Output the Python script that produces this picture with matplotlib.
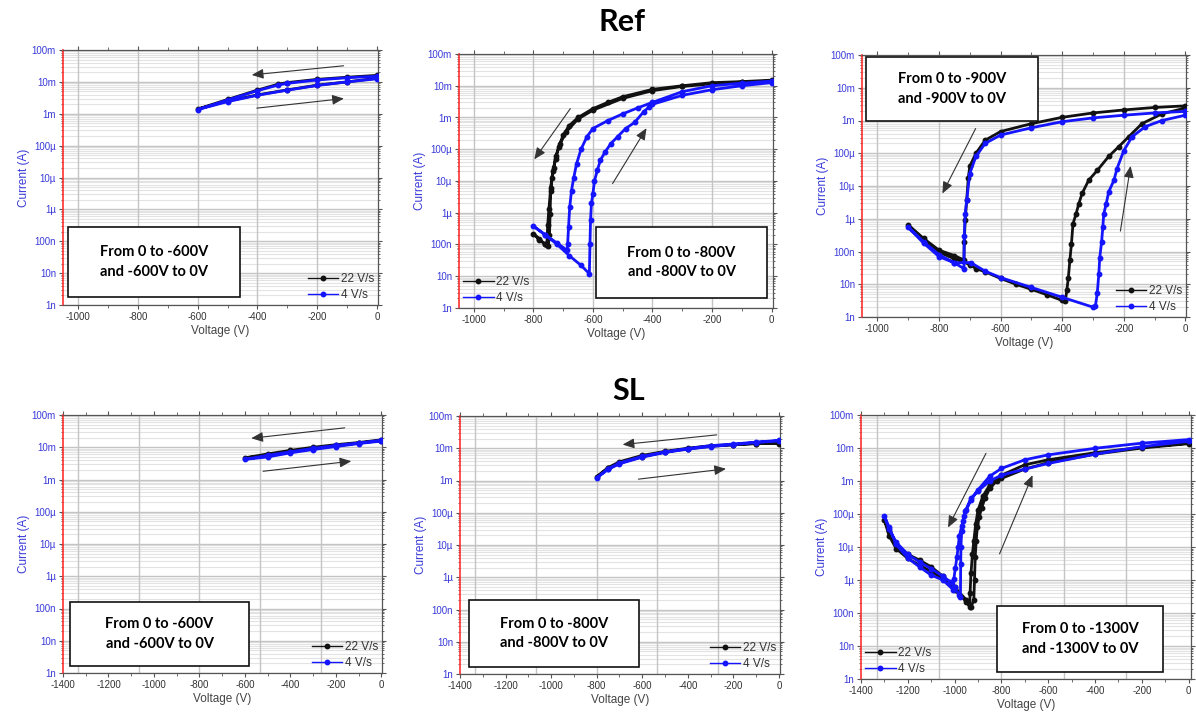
import numpy as np
import matplotlib.pyplot as plt
from matplotlib.ticker import MultipleLocator, FixedLocator, FixedFormatter, NullFormatter
from matplotlib.patches import Rectangle

plt.rcParams['font.family'] = ['Liberation Sans', 'DejaVu Sans']
plt.rcParams['axes.unicode_minus'] = False

# ---- y axis decades and their labels
decades = [1e-9, 1e-8, 1e-7, 1e-6, 1e-5, 1e-4, 1e-3, 1e-2, 1e-1]
decade_labels = ['1n', '10n', '100n', '1µ', '10µ', '100µ', '1m', '10m', '100m']
legend_labels = ['22 V/s', '4 V/s']

# ---- Ref, 0 -> -600 V -> 0
ref600_v22 = [0, -100, -200, -300, -330, -400, -500, -600, -500, -400, -300, -200, -100, 0]
ref600_i22 = [16e-3, 14e-3, 12e-3, 9.5e-3, 8.5e-3, 5.5e-3, 2.8e-3, 1.4e-3, 2.5e-3, 3.9e-3, 5.6e-3, 7.9e-3, 10e-3, 13e-3]
ref600_v4 = [0, -100, -200, -300, -330, -400, -500, -600, -500, -400, -300, -200, -100, 0]
ref600_i4 = [15e-3, 13.5e-3, 11.5e-3, 9e-3, 8e-3, 5.3e-3, 2.7e-3, 1.35e-3, 2.4e-3, 3.8e-3, 5.5e-3, 7.7e-3, 10e-3, 12.5e-3]

# ---- Ref, 0 -> -800 V -> 0
ref800_v22 = [0, -100, -200, -300, -400, -500, -550, -600, -650, -680, -700, -715, -725, -735, -742, -748, -752, -755,
              -760, -780, -800,
              -780, -760, -750, -746, -744, -742, -738, -732, -725, -710, -690, -650, -600, -500, -400, -300, -200, -100, 0]
ref800_i22 = [15e-3, 13.5e-3, 12.5e-3, 10e-3, 7.7e-3, 4.5e-3, 3e-3, 1.9e-3, 1e-3, 0.55e-3, 0.28e-3, 0.12e-3, 50e-6, 20e-6, 6e-6, 1.3e-6, 0.4e-6, 95e-9,
              100e-9, 150e-9, 220e-9,
              140e-9, 100e-9, 90e-9, 0.2e-6, 0.9e-6, 5e-6, 12e-6, 25e-6, 60e-6, 0.15e-3, 0.35e-3, 0.9e-3, 1.7e-3, 4e-3, 7e-3, 9.5e-3, 11.5e-3, 13e-3, 14e-3]
ref800_v4 = [0, -100, -200, -300, -400, -450, -500, -550, -600, -620, -640, -655, -665, -672, -678, -682, -685, -686,
             -720, -760, -800,
             -760, -720, -680, -640, -612, -610, -608, -605, -600, -595, -585, -575, -560, -540, -517, -490, -460, -430,
             -410, -400, -300, -200, -100, 0]
ref800_i4 = [14e-3, 12e-3, 10e-3, 6.5e-3, 3e-3, 2e-3, 1.3e-3, 0.8e-3, 0.45e-3, 0.25e-3, 0.1e-3, 35e-6, 12e-6, 5e-6, 1.5e-6, 0.35e-6, 0.1e-6, 65e-9,
             110e-9, 200e-9, 380e-9,
             200e-9, 100e-9, 45e-9, 22e-9, 12e-9, 100e-9, 0.6e-6, 2e-6, 4e-6, 10e-6, 22e-6, 45e-6, 80e-6, 0.15e-3, 0.25e-3, 0.45e-3, 0.7e-3, 1.5e-3,
             2.2e-3, 2.6e-3, 5e-3, 7.5e-3, 10e-3, 12.5e-3]

# ---- Ref, 0 -> -900 V -> 0
ref900_v22 = [0, -100, -200, -300, -400, -500, -600, -650, -680, -700, -705, -710, -715, -718, -719, -750, -800, -850, -900,
              -850, -800, -750, -700, -680, -650, -600, -550, -500, -450, -400, -390, -385, -380, -375, -370, -365, -355,
              -346, -335, -314, -286, -249, -216, -184, -141, -76, 0]
ref900_i22 = [2.8e-3, 2.5e-3, 2.1e-3, 1.7e-3, 1.25e-3, 0.8e-3, 0.46e-3, 0.25e-3, 0.1e-3, 40e-6, 17e-6, 3.7e-6, 0.9e-6, 0.2e-6, 55e-9, 75e-9, 110e-9, 0.25e-6, 0.65e-6,
              0.22e-6, 95e-9, 60e-9, 40e-9, 30e-9, 24e-9, 15e-9, 10e-9, 7e-9, 4.8e-9, 3.2e-9, 3e-9, 6.5e-9, 16e-9, 55e-9, 0.17e-6, 0.7e-6, 1.4e-6,
              2.9e-6, 6e-6, 15e-6, 30e-6, 80e-6, 0.16e-3, 0.32e-3, 0.8e-3, 1.6e-3, 2.4e-3]
ref900_v4 = [0, -100, -200, -300, -400, -500, -600, -650, -680, -700, -710, -715, -718, -719, -750, -800, -850, -900,
             -850, -800, -750, -697, -650, -600, -500, -400, -300, -292, -286, -281, -278, -272, -268, -265, -257, -249,
             -232, -222, -200, -173, -130, -76, 0]
ref900_i4 = [1.9e-3, 1.7e-3, 1.45e-3, 1.2e-3, 0.92e-3, 0.6e-3, 0.36e-3, 0.2e-3, 80e-6, 24e-6, 3.7e-6, 1.4e-6, 0.3e-6, 30e-9, 45e-9, 70e-9, 0.18e-6, 0.55e-6,
             0.2e-6, 80e-9, 45e-9, 46e-9, 25e-9, 16e-9, 8e-9, 4e-9, 2e-9, 2.2e-9, 5.5e-9, 21e-9, 65e-9, 0.2e-6, 0.57e-6, 1.4e-6, 2.9e-6, 6.6e-6,
             15e-6, 34e-6, 0.12e-3, 0.32e-3, 0.65e-3, 1e-3, 1.45e-3]

# ---- SL, 0 -> -600 V -> 0
sl600_v22 = [0, -100, -200, -300, -400, -500, -600, -500, -400, -300, -200, -100, 0]
sl600_i22 = [17e-3, 14e-3, 12e-3, 10e-3, 8e-3, 6.2e-3, 4.7e-3, 5.5e-3, 7.2e-3, 9e-3, 11e-3, 13.5e-3, 16e-3]
sl600_v4 = [0, -100, -200, -300, -400, -500, -600, -500, -400, -300, -200, -100, 0]
sl600_i4 = [16.5e-3, 13.5e-3, 11.4e-3, 9.2e-3, 7.2e-3, 5.6e-3, 4.2e-3, 5e-3, 6.7e-3, 8.5e-3, 10.5e-3, 13e-3, 15.5e-3]

# ---- SL, 0 -> -800 V -> 0
sl800_v22 = [0, -100, -200, -300, -400, -500, -600, -700, -750, -800, -750, -700, -600, -500, -400, -300, -200, -100, 0]
sl800_i22 = [15e-3, 14e-3, 13e-3, 12e-3, 10e-3, 8e-3, 6e-3, 3.8e-3, 2.5e-3, 1.3e-3, 2.4e-3, 3.4e-3, 5.5e-3, 7.6e-3, 9.6e-3, 11.5e-3, 12.8e-3, 14e-3, 14e-3]
sl800_v4 = [0, -100, -200, -300, -400, -500, -600, -700, -750, -800, -750, -700, -600, -500, -400, -300, -200, -100, 0]
sl800_i4 = [17.5e-3, 15.5e-3, 13.5e-3, 12e-3, 9.8e-3, 7.7e-3, 5.6e-3, 3.5e-3, 2.3e-3, 1.2e-3, 2.2e-3, 3.3e-3, 5.3e-3, 7.4e-3, 9.4e-3, 11.3e-3, 13e-3, 15e-3, 17e-3]

# ---- SL, 0 -> -1300 V -> 0
sl1300_v22 = [0, -200, -400, -600, -700, -800, -850, -880, -900, -910, -918, -924, -930, -934, -936, -950, -1000, -1050,
              -1100, -1150, -1200, -1250, -1280, -1300,
              -1280, -1250, -1200, -1150, -1100, -1050, -1000, -950, -930, -918, -915, -912, -908, -903, -895, -885,
              -870, -850, -820, -800, -700, -600, -400, -200, 0]
sl1300_i22 = [14e-3, 10.5e-3, 7.2e-3, 4.4e-3, 3.1e-3, 1.5e-3, 0.76e-3, 0.34e-3, 0.13e-3, 50e-6, 15e-6, 6e-6, 1.6e-6, 0.4e-6, 0.15e-6, 0.25e-6, 0.6e-6, 1.3e-6,
              2.5e-6, 4e-6, 6e-6, 12e-6, 30e-6, 65e-6,
              22e-6, 9e-6, 4.5e-6, 2.8e-6, 1.8e-6, 1.1e-6, 0.5e-6, 0.22e-6, 0.15e-6, 0.25e-6, 1e-6, 5e-6, 15e-6, 40e-6, 80e-6, 0.15e-3,
              0.3e-3, 0.6e-3, 1e-3, 1.2e-3, 2.3e-3, 3.6e-3, 6.5e-3, 10e-3, 13.5e-3]
sl1300_v4 = [0, -200, -400, -600, -700, -800, -850, -900, -930, -950, -960, -970, -980, -985, -990, -997, -1003, -1005,
             -1050, -1100, -1150, -1200, -1250, -1280, -1300,
             -1280, -1250, -1200, -1150, -1100, -1050, -1020, -1000, -980, -975, -974, -973, -970, -965, -955, -930,
             -900, -850, -800, -700, -600, -400, -200, 0]
sl1300_i4 = [18e-3, 14e-3, 9.8e-3, 6.2e-3, 4.4e-3, 2.4e-3, 1.4e-3, 0.54e-3, 0.27e-3, 0.13e-3, 84e-6, 42e-6, 21e-6, 10e-6, 5e-6, 2.3e-6, 1.1e-6, 0.5e-6,
             1e-6, 1.4e-6, 2.5e-6, 4.6e-6, 12e-6, 40e-6, 85e-6,
             35e-6, 14e-6, 6e-6, 3.5e-6, 2.2e-6, 1.3e-6, 0.9e-6, 0.6e-6, 0.35e-6, 0.3e-6, 3e-6, 10e-6, 30e-6, 60e-6, 0.12e-3, 0.3e-3,
             0.5e-3, 1e-3, 1.5e-3, 2.3e-3, 3.4e-3, 6.5e-3, 11e-3, 16e-3]

box_texts = ['From 0 to -600V\nand -600V to 0V', 'From 0 to -800V\nand -800V to 0V', 'From 0 to -900V\nand -900V to 0V',
             'From 0 to -600V\nand -600V to 0V', 'From 0 to -800V\nand -800V to 0V', 'From 0 to -1300V\nand -1300V to 0V']

W, H = 1196, 722
fig = plt.figure(figsize=(W / 100, H / 100), dpi=100)

BLUE = '#1414ff'
TICKBLUE = '#3a3ad8'

# panel layout in pixels: x0, ytop, x1, ybottom
panel_px = [(63, 50, 378, 305), (459, 54, 773, 308), (862, 55, 1186, 317),
            (63, 415, 382, 673), (460, 416, 780, 674), (861, 415, 1191, 679)]
box_px = [(68, 227, 240, 297), (596, 227, 767, 298), (866, 57, 1038, 121),
          (70, 602, 249, 666), (469, 600, 639, 667), (997, 606, 1163, 672)]
xlims = [(-1050, 3), (-1050, 5), (-1050, 2), (-1400, 3), (-1400, 5), (-1400, 10)]
top_vgrid = [-1000, -800, -600, -400, -200]
bot_vgrid = [-1333.3, -1066.7, -800, -533.3, -266.7]
vgrids = [top_vgrid] * 3 + [bot_vgrid] * 3
legend_locs = ['lower right', 'lower left', 'lower right', 'lower right', 'lower right', 'lower left']

# arrows: (tail, head) in data coordinates
arrows = [
    [((-112, 3.2e-2), (-419, 1.65e-2)), ((-402, 1.5e-3), (-111, 3e-3))],
    [((-676, 1.9e-3), (-797, 4.8e-5)), ((-534, 8.3e-6), (-420, 4.6e-4))],
    [((-681, 5.7e-4), (-789, 5.9e-6)), ((-211, 4.2e-7), (-178, 4.1e-5))],
    [((-161, 4.0e-2), (-572, 1.9e-2)), ((-520, 1.8e-3), (-132, 3.7e-3))],
    [((-273, 2.6e-2), (-686, 1.3e-2)), ((-617, 1.1e-3), (-232, 2.3e-3))],
    [((-866, 6.9e-3), (-1028, 3.9e-5)), ((-808, 6.2e-6), (-667, 1.5e-3))],
]

series = [(ref600_v22, ref600_i22, ref600_v4, ref600_i4),
          (ref800_v22, ref800_i22, ref800_v4, ref800_i4),
          (ref900_v22, ref900_i22, ref900_v4, ref900_i4),
          (sl600_v22, sl600_i22, sl600_v4, sl600_i4),
          (sl800_v22, sl800_i22, sl800_v4, sl800_i4),
          (sl1300_v22, sl1300_i22, sl1300_v4, sl1300_i4)]

minor_y = [d * k for d in decades[:-1] for k in range(2, 10)]

for k in range(6):
    x0, y0, x1, y1 = panel_px[k]
    ax = fig.add_axes([x0 / W, 1 - y1 / H, (x1 - x0) / W, (y1 - y0) / H])
    ax.set_yscale('log')
    ax.set_ylim(1e-9, 1e-1)
    ax.set_xlim(*xlims[k])

    # grid
    for yy in minor_y:
        ax.axhline(yy, color='#e3e3e3', lw=0.8, zorder=0)
    for yy in decades:
        ax.axhline(yy, color='#c4c4c4', lw=1.0, zorder=0)
    for xx in vgrids[k]:
        ax.axvline(xx, color='#c4c4c4', lw=1.0, zorder=0)

    v22, i22, v4, i4 = series[k]
    ax.plot(v22, i22, color='#111111', lw=2.0, marker='o', ms=3.2, mfc='#111111', mec='#111111',
            label=legend_labels[0], zorder=3)
    ax.plot(v4, i4, color=BLUE, lw=2.0, marker='o', ms=3.2, mfc=BLUE, mec=BLUE,
            label=legend_labels[1], zorder=4)

    for tail, head in arrows[k]:
        ax.annotate('', xy=head, xytext=tail,
                    arrowprops=dict(arrowstyle='-|>,head_length=0.7,head_width=0.3', color='#333333',
                                    lw=0.8, shrinkA=0, shrinkB=0, mutation_scale=10), zorder=5)

    # axes styling
    for s in ['top', 'right', 'bottom']:
        ax.spines[s].set_color('#555555')
        ax.spines[s].set_linewidth(0.9)
    ax.spines['left'].set_color('#ff3030')
    ax.spines['left'].set_linewidth(1.2)

    ax.xaxis.set_major_locator(MultipleLocator(200))
    ax.xaxis.set_minor_locator(MultipleLocator(100))
    ax.yaxis.set_major_locator(FixedLocator(decades))
    ax.yaxis.set_major_formatter(FixedFormatter(decade_labels))
    ax.yaxis.set_minor_locator(FixedLocator(minor_y))
    ax.yaxis.set_minor_formatter(NullFormatter())
    ax.tick_params(axis='x', which='both', direction='out', top=True, labelsize=7, labelcolor='#333333',
                   color='#555555', pad=2)
    ax.tick_params(axis='x', which='major', length=3)
    ax.tick_params(axis='x', which='minor', length=2)
    ax.tick_params(axis='y', which='both', direction='out', right=True, labelsize=7, labelcolor=TICKBLUE,
                   color='#555555', pad=2)
    ax.tick_params(axis='y', which='major', length=3)
    ax.tick_params(axis='y', which='minor', length=1.5)

    ax.set_xlabel('Voltage (V)', fontsize=8.5, color='#444444', labelpad=2)
    ax.set_ylabel('Current (A)', fontsize=8.5, color=TICKBLUE, labelpad=1)

    leg = ax.legend(loc=legend_locs[k], frameon=False, fontsize=8.5, handlelength=2.6, handletextpad=0.2,
                    borderaxespad=0.15, labelspacing=0.3, borderpad=0.2)
    for t in leg.get_texts():
        t.set_color('#333333')
    for h in leg.legend_handles:
        h.set_linewidth(1.0)
    leg.set_zorder(6)

    # text box
    bx0, by0, bx1, by1 = box_px[k]
    fig.add_artist(Rectangle((bx0 / W, 1 - by1 / H), (bx1 - bx0) / W, (by1 - by0) / H,
                             transform=fig.transFigure, facecolor='white', edgecolor='#111111', lw=1.2, zorder=10))
    fig.text((bx0 + bx1) / 2 / W, 1 - (by0 + by1) / 2 / H, box_texts[k], ha='center', va='center',
             fontsize=10.5, fontweight='bold', family=['Lato', 'DejaVu Sans'], linespacing=1.5, zorder=11)

fig.text(622 / W, 1 - 22 / H, 'Ref', ha='center', va='center', fontsize=22, fontweight='bold',
         family=['Lato', 'DejaVu Sans'])
fig.text(629 / W, 1 - 391 / H, 'SL', ha='center', va='center', fontsize=22, fontweight='bold',
         family=['Lato', 'DejaVu Sans'])

fig.savefig('out.png', dpi=100)
